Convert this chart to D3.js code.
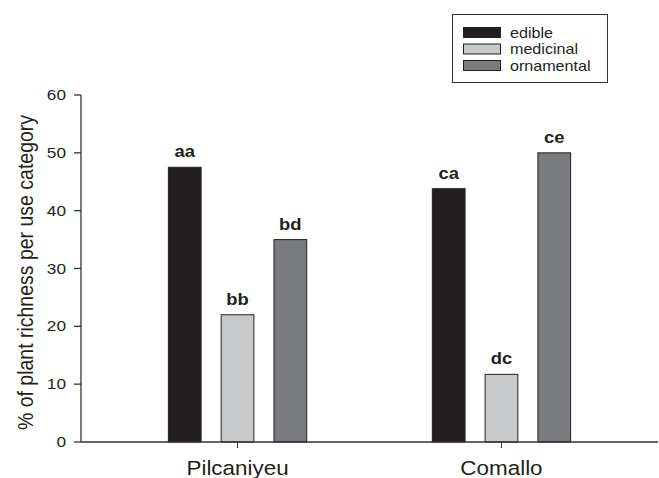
<!DOCTYPE html>
<html>
<head>
<meta charset="utf-8">
<script src="https://cdn.jsdelivr.net/npm/d3@7"></script>
<style>
  body { margin: 0; background: #fff; }
  text { font-family: "Liberation Sans", Arial, Helvetica, sans-serif; fill: #231f20; }
</style>
</head>
<body>
<svg id="chart" width="659" height="478"></svg>
<script>
// data
const sites = ["Pilcaniyeu", "Comallo"];
const useCats = ["edible", "medicinal", "ornamental"];
const edible = [47.5, 43.8];
const medicinal = [22.0, 11.7];
const ornamental = [35.0, 50.0];
const letters = [["aa", "bb", "bd"], ["ca", "dc", "ce"]];
const yTicks = [0, 10, 20, 30, 40, 50, 60];

const values = { edible, medicinal, ornamental };
const colors = { edible: "#231f20", medicinal: "#c8c9cb", ornamental: "#7a7b7e" };

// the original figure is stretched horizontally, so text gets a small x scale
const SX = 1.15;

const svg = d3.select("#chart");
const plot = { left: 81, right: 658, top: 95, bottom: 442 };

const x0 = d3.scaleBand()
    .domain(sites)
    .range([plot.left, plot.right])
    .paddingInner(0)
    .paddingOuter(0.093);

const x1 = d3.scaleBand()
    .domain(useCats)
    .range([x0.bandwidth() * 0.2, x0.bandwidth() * 0.8])
    .paddingInner(0.38)
    .paddingOuter(0.19);

const y = d3.scaleLinear()
    .domain([0, 60])
    .range([plot.bottom, plot.top]);

function stretchText(sel, px, py, rot) {
    sel.attr("x", 0).attr("y", 0)
       .attr("transform", `translate(${px},${py}) scale(${SX},1)` + (rot ? ` rotate(${rot})` : ""));
    return sel;
}

// bars
const rows = [];
sites.forEach((s, i) => {
    useCats.forEach((c, j) => {
        rows.push({ site: s, cat: c, value: values[c][i], letter: letters[i][j] });
    });
});

const barG = svg.append("g").attr("class", "bars");

barG.selectAll("rect")
    .data(rows)
  .join("rect")
    .attr("x", d => x0(d.site) + x1(d.cat))
    .attr("y", d => y(d.value))
    .attr("width", x1.bandwidth())
    .attr("height", d => y(0) - y(d.value))
    .attr("fill", d => colors[d.cat])
    .attr("stroke", "#231f20")
    .attr("stroke-width", 1);

barG.selectAll("text")
    .data(rows)
  .join("text")
    .text(d => d.letter)
    .attr("text-anchor", "middle")
    .style("font-size", "16px")
    .style("font-weight", "bold")
    .each(function (d) {
        stretchText(d3.select(this), x0(d.site) + x1(d.cat) + x1.bandwidth() / 2, y(d.value) - 10);
    });

// y axis
const yAxis = svg.append("g").attr("class", "y-axis");
yAxis.append("line")
    .attr("x1", plot.left).attr("x2", plot.left)
    .attr("y1", y(60)).attr("y2", y(0))
    .attr("stroke", "#333").attr("stroke-width", 1.3);

yAxis.selectAll("line.tick")
    .data(yTicks)
  .join("line")
    .attr("class", "tick")
    .attr("x1", plot.left - 7).attr("x2", plot.left)
    .attr("y1", d => y(d)).attr("y2", d => y(d))
    .attr("stroke", "#333").attr("stroke-width", 1.3);

yAxis.selectAll("text")
    .data(yTicks)
  .join("text")
    .text(d => d)
    .attr("text-anchor", "end")
    .style("font-size", "15px")
    .each(function (d) {
        stretchText(d3.select(this), plot.left - 15, y(d) + 5);
    });

// x axis
const xAxis = svg.append("g").attr("class", "x-axis");
xAxis.append("line")
    .attr("x1", plot.left).attr("x2", plot.right)
    .attr("y1", y(0)).attr("y2", y(0))
    .attr("stroke", "#333").attr("stroke-width", 1.5);

xAxis.selectAll("line.tick")
    .data(sites)
  .join("line")
    .attr("class", "tick")
    .attr("x1", d => x0(d) + x0.bandwidth() / 2)
    .attr("x2", d => x0(d) + x0.bandwidth() / 2)
    .attr("y1", y(0)).attr("y2", y(0) + 6)
    .attr("stroke", "#333").attr("stroke-width", 1);

xAxis.selectAll("text")
    .data(sites)
  .join("text")
    .text(d => d)
    .attr("text-anchor", "middle")
    .style("font-size", "19.5px")
    .each(function (d) {
        stretchText(d3.select(this), x0(d) + x0.bandwidth() / 2, 475);
    });

// y label
stretchText(
    svg.append("text")
        .text("% of plant richness per use category")
        .attr("text-anchor", "middle")
        .style("font-size", "19.5px"),
    33, (y(0) + y(60)) / 2 + 4, -90);

// legend
const legend = svg.append("g").attr("class", "legend");
legend.append("rect")
    .attr("x", 452.5).attr("y", 14.5)
    .attr("width", 155).attr("height", 68)
    .attr("fill", "#fff")
    .attr("stroke", "#333").attr("stroke-width", 1);

const legItems = legend.selectAll("g.item")
    .data(useCats)
  .join("g")
    .attr("class", "item")
    .attr("transform", (d, i) => `translate(463, ${27 + i * 16.5})`);

legItems.append("rect")
    .attr("x", 0.5).attr("y", 0.5)
    .attr("width", 37).attr("height", 10)
    .attr("fill", d => colors[d])
    .attr("stroke", "#231f20").attr("stroke-width", 1);

legItems.append("text")
    .text(d => d)
    .style("font-size", "14px")
    .each(function () {
        stretchText(d3.select(this), 47, 10.5);
    });
</script>
</body>
</html>
